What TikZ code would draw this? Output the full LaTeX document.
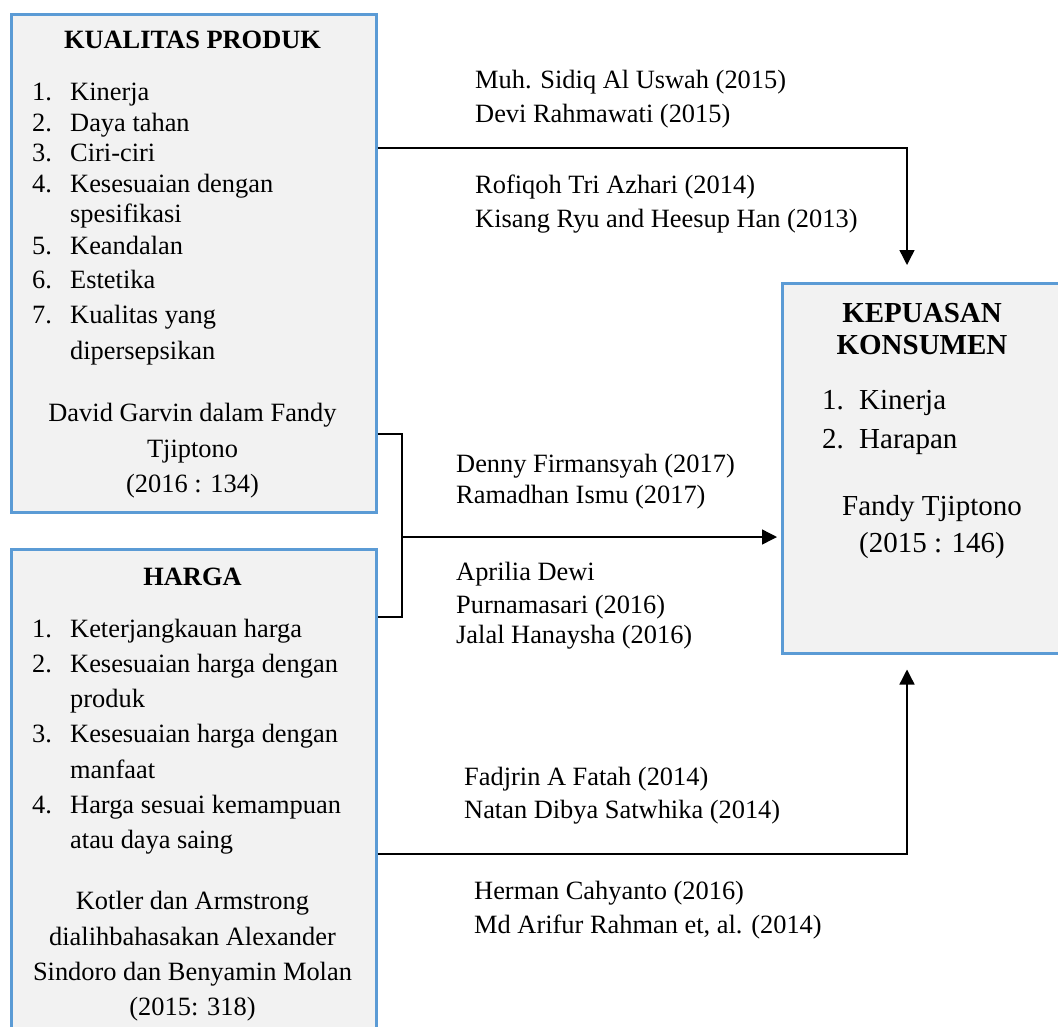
\documentclass[tikz,border=0pt]{standalone}
\usepackage{fontspec}
\setmainfont{Liberation Serif}
\usetikzlibrary{arrows.meta}
\definecolor{boxblue}{RGB}{91,155,213}
\definecolor{boxfill}{RGB}{242,242,242}
\newcommand\fsA{\fontsize{26.4}{30}\selectfont}
\newcommand\fsB{\fontsize{29}{34}\selectfont}
\tikzset{
  box/.style={draw=boxblue, fill=boxfill, line width=2.5pt, inner sep=0pt, anchor=north west},
  conn/.style={draw=black, line width=1.4pt},
  arr/.style={conn, -{Triangle[length=15pt,width=15pt]}},
  lt/.style={inner sep=0pt, anchor=base west, font=\fsA},
  ct/.style={inner sep=0pt, anchor=base, font=\fsA},
  bt/.style={inner sep=0pt, anchor=base, font=\fsA\bfseries},
  lt3/.style={inner sep=0pt, anchor=base west, font=\fsB},
  ct3/.style={inner sep=0pt, anchor=base, font=\fsB},
  bt3/.style={inner sep=0pt, anchor=base, font=\fsB\bfseries},
}
\begin{document}
\begin{tikzpicture}[x=1pt,y=-1pt]
\useasboundingbox (0,0) rectangle (1058,1026);
\fill[white] (0,0) rectangle (1058,1026);
% boxes
\node[box, minimum width=365pt, minimum height=498pt] (kp) at (10,13) {};
\node[box, minimum width=365pt, minimum height=492pt] (hg) at (10,548) {};
\node[box, minimum width=279pt, minimum height=370pt] (kk) at (781,282) {};

% KUALITAS PRODUK
\node[bt] (kpT) at (192.5,48) {KUALITAS PRODUK};
\node[lt] (kpn1) at (32,100) {1.}; \node[lt] (kpi1) at (70,100) {Kinerja};
\node[lt] (kpn2) at (32,131) {2.}; \node[lt] (kpi2) at (70,131) {Daya tahan};
\node[lt] (kpn3) at (32,161) {3.}; \node[lt] (kpi3) at (70,161) {Ciri-ciri};
\node[lt] (kpn4) at (32,192) {4.}; \node[lt] (kpi4) at (70,192) {Kesesuaian dengan};
\node[lt] (kpi4b) at (70,222) {spesifikasi};
\node[lt] (kpn5) at (32,254) {5.}; \node[lt] (kpi5) at (70,254) {Keandalan};
\node[lt] (kpn6) at (32,288) {6.}; \node[lt] (kpi6) at (70,288) {Estetika};
\node[lt] (kpn7) at (32,323) {7.}; \node[lt] (kpi7) at (70,323) {Kualitas yang};
\node[lt] (kpi7b) at (70,359) {dipersepsikan};
\node[ct] (kps1) at (192.5,421) {David Garvin dalam Fandy};
\node[ct] (kps2) at (192.5,457) {Tjiptono};
\node[ct] (kps3) at (192.5,492) {(2016 : 134)};

% HARGA
\node[bt] (hgT) at (192.5,585) {HARGA};
\node[lt] (hgn1) at (32,637) {1.}; \node[lt] (hgi1) at (70,637) {Keterjangkauan harga};
\node[lt] (hgn2) at (32,672) {2.}; \node[lt] (hgi2) at (70,672) {Kesesuaian harga dengan};
\node[lt] (hgi2b) at (70,707) {produk};
\node[lt] (hgn3) at (32,742) {3.}; \node[lt] (hgi3) at (70,742) {Kesesuaian harga dengan};
\node[lt] (hgi3b) at (70,778) {manfaat};
\node[lt] (hgn4) at (32,813) {4.}; \node[lt] (hgi4) at (70,813) {Harga sesuai kemampuan};
\node[lt] (hgi4b) at (70,848) {atau daya saing};
\node[ct] (hgs1) at (192.5,909) {Kotler dan Armstrong};
\node[ct] (hgs2) at (192.5,945) {dialihbahasakan Alexander};
\node[ct] (hgs3) at (192.5,980) {Sindoro dan Benyamin Molan};
\node[ct] (hgs4) at (192.5,1015) {(2015: 318)};

% KEPUASAN KONSUMEN
\node[bt3] (kkT1) at (922,322) {KEPUASAN};
\node[bt3] (kkT2) at (922,354) {KONSUMEN};
\node[lt3] (kkn1) at (822,409) {1.}; \node[lt3] (kki1) at (859,409) {Kinerja};
\node[lt3] (kkn2) at (822,448) {2.}; \node[lt3] (kki2) at (859,448) {Harapan};
\node[ct3] (kks1) at (932,515) {Fandy Tjiptono};
\node[ct3] (kks2) at (932,552) {(2015 : 146)};

% connector labels
\node[lt] (r1) at (475,88) {Muh. Sidiq Al Uswah (2015)};
\node[lt] (r2) at (475,122) {Devi Rahmawati (2015)};
\node[lt] (r3) at (475,193) {Rofiqoh Tri Azhari (2014)};
\node[lt] (r4) at (475,227) {Kisang Ryu and Heesup Han (2013)};
\node[lt] (r5) at (456,472) {Denny Firmansyah (2017)};
\node[lt] (r6) at (456,503) {Ramadhan Ismu (2017)};
\node[lt] (r7) at (456,580) {Aprilia Dewi};
\node[lt] (r8) at (456,613) {Purnamasari (2016)};
\node[lt] (r9) at (456,643) {Jalal Hanaysha (2016)};
\node[lt] (r10) at (464,785) {Fadjrin A Fatah (2014)};
\node[lt] (r11) at (464,818) {Natan Dibya Satwhika (2014)};
\node[lt] (r12) at (474,899) {Herman Cahyanto (2016)};
\node[lt] (r13) at (474,933) {Md Arifur Rahman et, al. (2014)};

% connectors
\coordinate (c1) at (907,148);
\coordinate (c3) at (907,854);
\coordinate (b1) at (402,434);
\coordinate (b2) at (402,617);
\coordinate (bm) at (402,537);
\draw[arr, shorten >=17pt] (kp.east |- c1) -- (c1) -- (kk.north -| c1);
\draw[conn] (kp.east |- b1) -- (b1) -- (b2) -- (hg.east |- b2);
\draw[arr, shorten >=4pt] (bm) -- (kk.west |- bm);
\draw[arr, shorten >=15pt] (hg.east |- c3) -- (c3) -- (kk.south -| c3);
\end{tikzpicture}
\end{document}
